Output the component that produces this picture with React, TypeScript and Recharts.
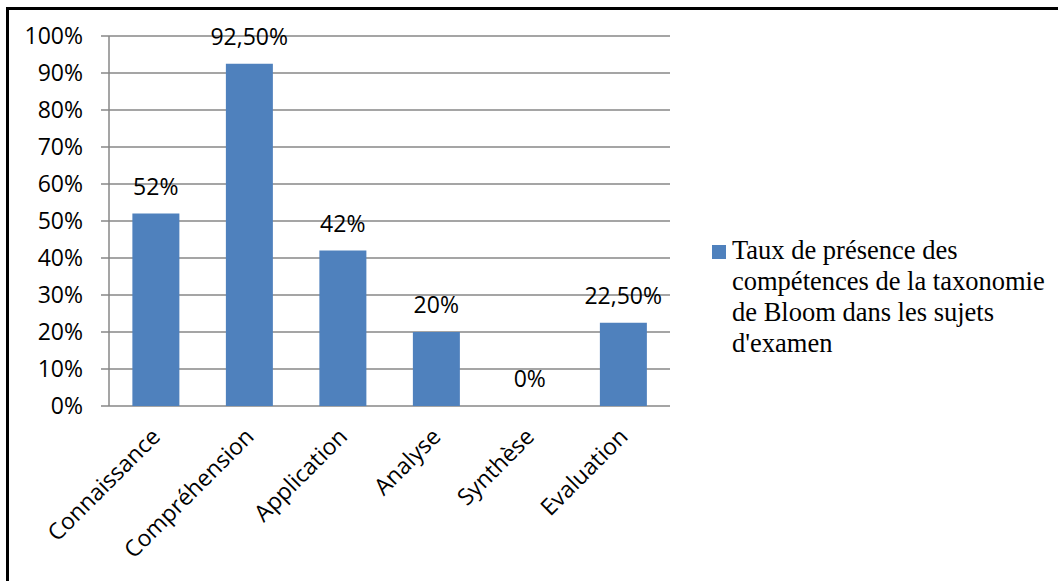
import React from "react";
import {
  ComposedChart,
  Bar,
  Line,
  XAxis,
  YAxis,
  CartesianGrid,
  Legend,
  LabelList,
} from "recharts";

const categories = [
  "Connaissance",
  "Compréhension",
  "Application",
  "Analyse",
  "Synthèse",
  "Evaluation",
];
const values = [52, 92.5, 42, 20, 0, 22.5];
const yTicks = [0, 10, 20, 30, 40, 50, 60, 70, 80, 90, 100];
const boundaryTicks = [0, 1, 2, 3, 4, 5, 6];
const seriesName =
  "Taux de présence des compétences de la taxonomie de Bloom dans les sujets d'examen";

const data = categories.map((c, i) => ({ name: c, value: values[i], idx: i + 0.5 }));

const fmt = (v: number) =>
  Number.isInteger(v) ? `${v}%` : `${v.toFixed(2).replace(".", ",")}%`;

const SANS = "'Open Sans', sans-serif";
const GRAY = "#878787";
const BLUE = "#4F81BD";
const LEGEND_W = 346;

const XTick = (props: any) => {
  const { x, y, payload } = props;
  const ax = x + 6;
  const ay = y + 24;
  return (
    <text
      x={ax}
      y={ay}
      transform={`rotate(-45 ${ax} ${ay})`}
      textAnchor="end"
      fontFamily={SANS}
      fontSize={23}
      fill="#000"
    >
      {payload.value}
    </text>
  );
};

const LegendContent = () => (
  <div style={{ display: "flex", alignItems: "flex-start" }}>
    <div
      style={{
        width: 14,
        height: 14,
        background: BLUE,
        marginTop: 10,
        marginRight: 6,
        flex: "none",
      }}
    />
    <div
      style={{
        fontFamily: "'Liberation Serif', 'Times New Roman', serif",
        fontSize: 26.5,
        lineHeight: "31px",
        color: "#000",
        width: 330,
      }}
    >
      {seriesName}
    </div>
  </div>
);

export default function App() {
  return (
    <div
      style={{
        position: "fixed",
        left: 0,
        top: 0,
        width: 1058,
        height: 581,
        background: "#fff",
        overflow: "hidden",
      }}
    >
      <div
        style={{
          position: "absolute",
          left: 6,
          top: 7,
          width: 1100,
          height: 640,
          borderTop: "3px solid #000",
          borderLeft: "3px solid #000",
        }}
      />
      <div style={{ position: "absolute", left: 0, top: 0 }}>
        <ComposedChart
          width={1058}
          height={581}
          data={data}
          margin={{ top: 36, right: 388 - LEGEND_W, bottom: 0, left: 0 }}
          barCategoryGap="25%"
        >
          <CartesianGrid vertical={false} stroke={GRAY} strokeWidth={1.3} />
          <XAxis
            xAxisId="b"
            type="number"
            dataKey="idx"
            domain={[0, 6]}
            ticks={boundaryTicks}
            tick={false}
            height={0}
            tickSize={8}
            axisLine={{ stroke: GRAY, strokeWidth: 1.5 }}
            tickLine={{ stroke: GRAY, strokeWidth: 1.5 }}
          />
          <XAxis
            xAxisId="c"
            dataKey="name"
            type="category"
            height={175}
            axisLine={false}
            tickLine={false}
            interval={0}
            tick={<XTick />}
          />
          <YAxis
            domain={[0, 100]}
            ticks={yTicks}
            width={109}
            tickFormatter={(v: number) => `${v}%`}
            tick={{ fontFamily: SANS, fontSize: 23, fill: "#000" }}
            tickSize={8}
            tickMargin={18}
            axisLine={{ stroke: GRAY, strokeWidth: 1.5 }}
            tickLine={{ stroke: GRAY, strokeWidth: 1.5 }}
          />
          <Legend
            layout="vertical"
            align="right"
            verticalAlign="top"
            wrapperStyle={{ left: 712, top: 235, width: LEGEND_W }}
            content={<LegendContent />}
          />
          <Bar
            xAxisId="c"
            dataKey="value"
            name={seriesName}
            fill={BLUE}
            isAnimationActive={false}
          />
          <Line
            xAxisId="c"
            dataKey="value"
            stroke="none"
            dot={false}
            activeDot={false}
            legendType="none"
            isAnimationActive={false}
          >
            <LabelList
              dataKey="value"
              position="top"
              offset={19}
              formatter={(v: any) => fmt(Number(v))}
              style={{ fontFamily: SANS, fontSize: 23, fill: "#000" }}
            />
          </Line>
        </ComposedChart>
      </div>
    </div>
  );
}
